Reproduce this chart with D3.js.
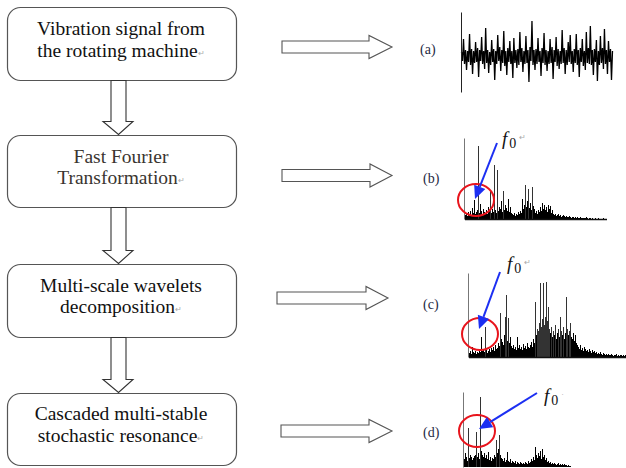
<!DOCTYPE html>
<html>
<head>
<meta charset="utf-8">
<script src="https://cdn.jsdelivr.net/npm/d3@7"></script>
<style>
  body { margin: 0; background: #fff; }
  svg { display: block; }
  text { font-family: "Liberation Serif", "Times New Roman", serif; }
</style>
</head>
<body>
<svg id="chart" width="626" height="468"></svg>
<script>
// Processing steps, one entry per box (two lines each)
const stepLines = [
  ["Vibration signal from", "the rotating machine"],
  ["Fast Fourier", "Transformation"],
  ["Multi-scale wavelets", "decomposition"],
  ["Cascaded multi-stable", "stochastic resonance"]
];
const panelLabels = ["(a)", "(b)", "(c)", "(d)"];
const peakName = "f";
const peakIndex = "0";

// (a) raw vibration signal, signed amplitude samples
const signalA = [
  4,-5,17,-8,6,-14,5,-6,22,-9,
  7,-18,5,-7,14,-6,8,-21,6,-5,
  19,-8,5,-13,28,-7,6,-17,4,-9,
  16,-6,7,-24,5,-8,21,-5,9,-15,
  6,-7,25,-10,5,-19,8,-6,15,-8,
  5,-22,18,-7,6,-12,7,-9,24,-6,
  8,-16,5,-8,20,-7,6,-26,9,-5,
  35,-9,6,-14,7,-8,18,-6,5,-20,
  8,-7,23,-9,6,-15,5,-8,17,-7,
  9,-23,6,-6,19,-10,7,-13,5,-8,
  26,-7,8,-18,6,-9,14,-6,21,-8,
  5,-16,7,-7,22,-9,6,-21,8,-6,
  17,-10,5,-14,24,-7,8,-8,30,-9,
  6,-19,7,-6,16,-25,5,-9,20,-7,
  8,-13,27,-8,6,-18,15,-6,7,-24,
  5
];

// (b) FFT amplitude spectrum
const spectrumB = [
  0,4,6,3,7,5,8,4,11,6,
  19,5,7,9,73,6,15,8,5,10,
  7,6,9,5,12,8,29,6,10,7,
  54,9,6,49,8,12,10,18,7,28,
  9,14,11,8,20,7,12,6,5,4,
  6,3,5,4,7,5,8,6,20,10,
  14,34,12,18,30,11,16,9,32,13,
  10,6,8,5,9,7,12,8,16,10,
  14,9,12,7,14,10,13,6,9,5,
  4,5,3,4,5,3,4,2,3,4,
  3,2,3,2,2,3,2,1,2,2,
  1,2,1,2,1,1,2,1,1,1,
  1,1,2,1,0,1,1,0,1,0,
  0,1,0,0,1,0,0,0,0,1,0,0,0
];

// (c) spectrum after wavelet decomposition
const spectrumC = [
  0,4,6,3,10,5,4,6,3,5,
  4,7,5,20,6,8,5,30,7,4,
  6,8,5,9,7,10,6,12,8,9,
  14,11,44,18,15,12,22,40,62,16,
  39,14,20,11,9,12,8,10,7,20,
  9,12,8,10,7,13,9,11,8,14,
  10,9,12,15,10,18,14,55,22,28,
  26,34,74,30,38,74,32,40,75,36,
  50,28,24,30,20,26,22,32,18,24,
  28,20,40,26,22,30,18,24,60,28,
  22,26,34,20,18,24,16,22,14,12,
  10,8,12,7,9,6,10,8,6,7,
  5,8,6,4,7,5,6,4,5,3,
  4,3,5,3,2,4,3,2,3,2,
  3,2,2,3,2,1,2,2,3,1,
  2,1,2,2,1,2,1,2
];

// (d) spectrum after cascaded multi-stable stochastic resonance
const spectrumD = [
  0,8,14,10,6,39,9,12,10,7,
  9,11,12,35,10,14,8,70,16,12,
  10,14,9,12,8,15,7,10,6,9,
  8,12,10,27,14,18,32,12,9,8,
  6,9,5,7,15,6,5,8,4,6,
  5,4,6,3,5,4,3,5,4,3,
  4,3,5,4,3,6,4,5,8,6,
  10,7,20,12,9,14,11,16,8,18,
  10,12,7,9,5,6,4,5,3,4,
  3,4,3,2,3,4,2,3,2,3,
  2,3,2,2,1,2,1,1
];

const svg = d3.select("#chart");
const boxStroke = "#555";

// ---- flow boxes ----
const boxes = [
  { y0: 7,   y1: 80,  base: [35, 57],   color: "#111" },
  { y0: 135, y1: 207, base: [163, 184], color: "#3a3530" },
  { y0: 264, y1: 337, base: [292, 313], color: "#111" },
  { y0: 393, y1: 465, base: [420, 442], color: "#111" }
];
const boxX0 = 7.5, boxX1 = 236.5, boxCx = 121;

boxes.forEach((b, i) => {
  svg.append("rect")
    .attr("x", boxX0).attr("y", b.y0 + 0.5)
    .attr("width", boxX1 - boxX0).attr("height", b.y1 - b.y0)
    .attr("rx", 13).attr("ry", 13)
    .attr("fill", "#fff").attr("stroke", boxStroke).attr("stroke-width", 1.2);
  stepLines[i].forEach((line, j) => {
    const t = svg.append("text")
      .attr("x", boxCx).attr("y", b.base[j])
      .attr("text-anchor", "middle")
      .style("font-size", "19.5px")
      .attr("fill", b.color)
      .text(line);
    if (j === stepLines[i].length - 1) {
      t.append("tspan").style("font-size", "8px").attr("fill", "#aaa").attr("dy", -1).text("\u21B5");
    }
  });
});

// ---- vertical block arrows between boxes ----
function downArrow(yTop, yTip) {
  const sx0 = 111, sx1 = 126, hx0 = 103, hx1 = 133, cx = 118.5;
  const yHead = yTip - 13;
  const pts = [[sx0, yTop], [sx1, yTop], [sx1, yHead], [hx1, yHead], [cx, yTip],
               [hx0, yHead], [sx0, yHead]];
  svg.append("path")
    .attr("d", d3.line()(pts) + "Z")
    .attr("fill", "#fff").attr("stroke", "#333").attr("stroke-width", 1.1);
}
downArrow(boxes[0].y1 + 0.5, boxes[1].y0 - 0.5);
downArrow(boxes[1].y1 + 0.5, boxes[2].y0 - 0.5);
downArrow(boxes[2].y1 + 0.5, boxes[3].y0 - 0.5);

// ---- horizontal block arrows ----
const hArrows = [
  { x0: 282, xh: 369, x1: 392, cy: 47 },
  { x0: 282, xh: 370, x1: 392, cy: 175.5 },
  { x0: 277, xh: 366, x1: 388, cy: 298 },
  { x0: 281, xh: 369, x1: 392, cy: 431 }
];
hArrows.forEach(a => {
  const s = 6, h = 11.5;
  const pts = [[a.x0, a.cy - s], [a.xh, a.cy - s], [a.xh, a.cy - h], [a.x1, a.cy],
               [a.xh, a.cy + h], [a.xh, a.cy + s], [a.x0, a.cy + s]];
  svg.append("path")
    .attr("d", d3.line()(pts) + "Z")
    .attr("fill", "#fff").attr("stroke", "#555").attr("stroke-width", 1.1);
});

// ---- panel labels ----
const labelPos = [[420, 54], [423, 183], [423, 309], [423, 437]];
panelLabels.forEach((l, i) => {
  svg.append("text")
    .attr("x", labelPos[i][0]).attr("y", labelPos[i][1])
    .style("font-size", "14px")
    .attr("fill", "#1f2a44")
    .text(l);
});

// ---- (a) time-domain signal ----
{
  const x = d3.scaleLinear().domain([0, signalA.length - 1]).range([461.5, 612.5]);
  const y = d3.scaleLinear().domain([-40, 40]).range([96, 16]);
  const g = svg.append("g");
  g.append("path")
    .attr("d", d3.line().x((d, i) => x(i)).y(d => y(d))(signalA))
    .attr("fill", "none").attr("stroke", "#000").attr("stroke-width", 1.3);
  const yAxis = d3.scaleLinear().domain([0, 1]).range([92, 12]);
  g.append("g").attr("transform", "translate(461,0)")
    .call(d3.axisLeft(yAxis).ticks(0).tickSizeOuter(0))
    .select(".domain").attr("stroke", "#222");
}

// ---- spectra ----
function spectrum(data, x0, x1, base, top, maxVal, drawBase) {
  const x = d3.scaleLinear().domain([0, data.length - 1]).range([x0 + 0.5, x1 + 0.5]);
  const y = d3.scaleLinear().domain([0, maxVal]).range([base, top]);
  const g = svg.append("g");
  g.selectAll("line.bar").data(data).join("line")
    .attr("class", "bar")
    .attr("x1", (d, i) => x(i)).attr("x2", (d, i) => x(i))
    .attr("y1", y(0)).attr("y2", d => y(d))
    .attr("stroke", d => d > 25 ? "#333" : "#000").attr("stroke-width", 1);
  g.append("g").attr("transform", `translate(${x0},0)`)
    .call(d3.axisLeft(y).ticks(0).tickSizeOuter(0))
    .select(".domain").attr("stroke", "#777");
  if (drawBase) {
    g.append("g").attr("transform", `translate(0,${base})`)
      .call(d3.axisBottom(x).ticks(0).tickSizeOuter(0))
      .select(".domain").attr("stroke", "#111").attr("stroke-width", 1.5);
  }
  return { x, y };
}
spectrum(spectrumB, 464, 606, 219, 138, 81, true);
spectrum(spectrumC, 468, 625, 357, 273, 84, true);
spectrum(spectrumD, 463, 570, 467, 392, 75, false);

// ---- f0 markers: red ring, blue arrow, label ----
const markers = [
  { cx: 476, cy: 200, from: [497, 143], tip: [475, 199], lx: 502, ly: 145, tail: "\u21B5" },
  { cx: 480, cy: 334, from: [500, 272], tip: [479, 329], lx: 507, ly: 270, tail: "\u21B5" },
  { cx: 477, cy: 431, from: [537, 393], tip: [479, 429], lx: 544, ly: 402, tail: "\u00B7" }
];
markers.forEach(m => {
  svg.append("ellipse")
    .attr("cx", m.cx).attr("cy", m.cy).attr("rx", 18).attr("ry", 16)
    .attr("fill", "none").attr("stroke", "#e8141c").attr("stroke-width", 2);
  const dx = m.tip[0] - m.from[0], dy = m.tip[1] - m.from[1];
  const len = Math.hypot(dx, dy), ux = dx / len, uy = dy / len;
  const headLen = 13, headW = 6;
  const bx = m.tip[0] - ux * headLen, by = m.tip[1] - uy * headLen;
  svg.append("line")
    .attr("x1", m.from[0]).attr("y1", m.from[1]).attr("x2", bx).attr("y2", by)
    .attr("stroke", "#1c2ff2").attr("stroke-width", 2);
  svg.append("path")
    .attr("d", d3.line()([[m.tip[0], m.tip[1]], [bx - uy * headW, by + ux * headW],
                          [bx + uy * headW, by - ux * headW]]) + "Z")
    .attr("fill", "#1c2ff2");
  const t = svg.append("text")
    .attr("x", m.lx).attr("y", m.ly)
    .attr("fill", "#111");
  t.append("tspan").style("font-size", "19px").style("font-style", "italic").text(peakName);
  t.append("tspan").style("font-size", "14px").attr("dx", 2).attr("dy", 3).text(peakIndex);
  t.append("tspan").style("font-size", "8px").attr("fill", "#aaa").attr("dx", 3).attr("dy", -8).text(m.tail);
});
</script>
</body>
</html>
